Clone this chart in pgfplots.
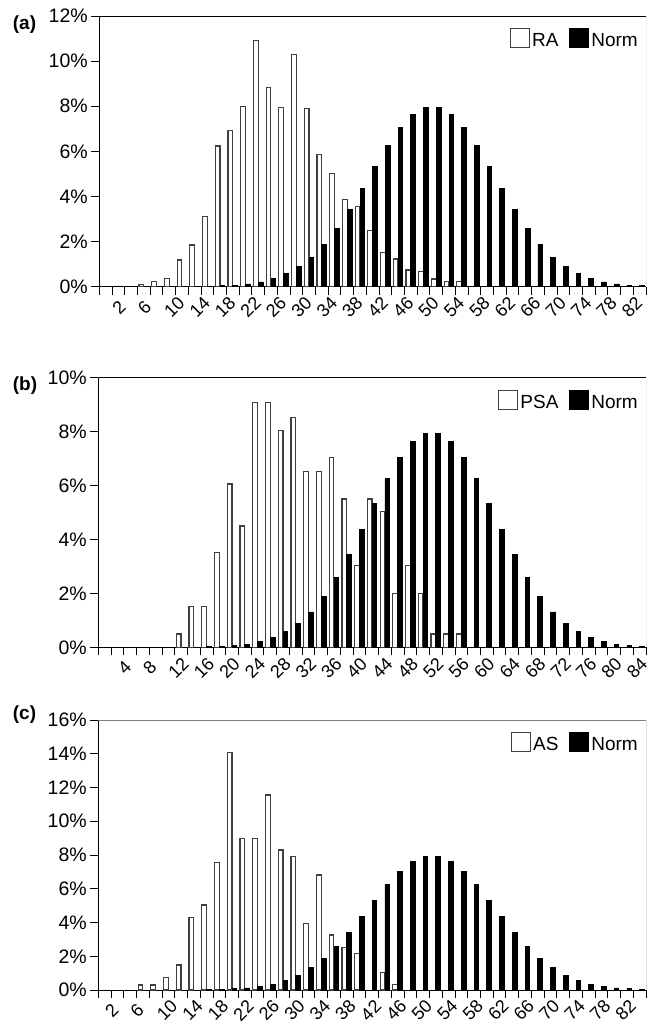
\documentclass[border=0pt]{standalone}
\usepackage{fontspec}
\setmainfont{Liberation Sans}
\usepackage{pgfplots}
\usepackage{pgfplotstable}
\pgfplotsset{compat=1.18}

\newcommand{\ylab}{\fontsize{19.5}{20}\selectfont}
\newcommand{\xlab}{\fontsize{18}{18}\selectfont}
\newcommand{\leg}{\fontsize{19}{20}\selectfont}
\newcommand{\plab}{\fontsize{19}{20}\selectfont\bfseries}

% normal reference, same in every panel
\pgfplotstableread{
c p
9 0.02
10 0.035
11 0.065
12 0.12
13 0.21
14 0.35
15 0.57
16 0.88
17 1.31
18 1.88
19 2.59
20 3.43
21 4.36
22 5.32
23 6.25
24 7.04
25 7.63
26 7.94
27 7.94
28 7.63
29 7.04
30 6.25
31 5.32
32 4.36
33 3.43
34 2.59
35 1.88
36 1.31
37 0.88
38 0.57
39 0.35
40 0.21
41 0.12
42 0.065
43 0.035
}\normtab

\pgfplotstableread{
c p
4 0.1
5 0.22
6 0.37
7 1.18
8 1.85
9 3.1
10 6.24
11 6.94
12 8.0
13 10.92
14 8.83
15 7.94
16 10.29
17 7.9
18 5.86
19 5.0
20 3.88
21 3.56
22 2.48
23 1.52
24 1.23
25 0.74
26 0.68
27 0.34
28 0.24
29 0.24
}\ratab

\pgfplotstableread{
c p
7 0.49
8 1.51
9 1.51
10 3.51
11 6.06
12 4.5
13 9.07
14 9.07
15 8.03
16 8.53
17 6.51
18 6.51
19 7.03
20 5.5
21 3.03
22 5.5
23 5.03
24 2.0
25 3.03
26 2.0
27 0.49
28 0.49
29 0.49
}\psatab

\pgfplotstableread{
c p
4 0.3
5 0.3
6 0.75
7 1.48
8 4.31
9 5.04
10 7.55
11 14.07
12 8.99
13 8.99
14 11.56
15 8.3
16 7.9
17 3.95
18 6.82
19 3.26
20 2.53
21 2.17
23 1.05
24 0.34
}\astab

\pgfplotsset{
  hist/.style={
    scale only axis,
    xmin=0.5, xmax=43.5, ymin=0,
    axis x line*=bottom, axis y line*=left,
    axis line style={black, line width=0.9pt, -},
    tick align=outside,
    major tick length=8pt,
    tick style={black, line width=0.8pt},
    xtick={0.5,1.5,...,43.5},
    xticklabels={},
    extra x tick style={major tick length=0pt,
      xticklabel style={font=\xlab, anchor=center, yshift=-20.5pt, rotate=45}},
    yticklabel style={font=\ylab, anchor=east},
    legend columns=-1,
    legend image code/.code={\draw[#1] (0pt,-7pt) rectangle (19pt,12pt);},
    legend style={draw=none, fill=none, inner sep=0pt, font=\leg,
      at={(1,1)}, anchor=north east, xshift=-6pt, yshift=-12pt,
      nodes={inner xsep=2pt, inner ysep=0pt},
      /tikz/every even column/.append style={column sep=9pt}},
  },
  obs/.style={ybar, bar width=0.37, bar shift=-0.19, fill=white, draw=black!75, line width=1.2pt},
  nm/.style={ybar, bar width=0.37, bar shift=0.19, fill=black, draw=black, line width=0.9pt},
}

\begin{document}
\begin{tikzpicture}[x=1pt,y=1pt]
\useasboundingbox (0,0) rectangle (647,1023);

% (a)
\begin{axis}[hist, at={(99.3pt,736.3pt)}, anchor=south west,
  width=546.7pt, height=270.7pt, ymax=12,
  ytick={0,2,4,6,8,10,12},
  yticklabels={0\%,2\%,4\%,6\%,8\%,10\%,12\%},
  extra x ticks={2.05,4.05,6.4,8.4,10.4,12.4,14.4,16.4,18.4,20.4,22.4,24.4,26.4,28.4,30.4,32.4,34.4,36.4,38.4,40.4,42.4},
  extra x tick labels={2,6,10,14,18,22,26,30,34,38,42,46,50,54,58,62,66,70,74,78,82}]
\addplot[obs] table[x=c,y=p] {\ratab};
\addplot[nm] table[x=c,y=p] {\normtab};
\legend{RA,Norm}
\draw[black, line width=0.9pt] (rel axis cs:0,1) -- (rel axis cs:1,1);
\draw[black!50, line width=0.9pt] (rel axis cs:1,0) -- (rel axis cs:1,1);
\end{axis}
\node[anchor=base west, font=\plab, inner sep=0pt] at (12.7,993.7) {(a)};

% (b)
\begin{axis}[hist, at={(98.3pt,375.7pt)}, anchor=south west,
  width=547.7pt, height=269.6pt, ymax=10,
  ytick={0,2,4,6,8,10},
  yticklabels={0\%,2\%,4\%,6\%,8\%,10\%},
  extra x ticks={2.55,4.55,6.8,8.8,10.8,12.8,14.8,16.8,18.8,20.8,22.8,24.8,26.8,28.8,30.8,32.8,34.8,36.8,38.8,40.8,42.8},
  extra x tick labels={4,8,12,16,20,24,28,32,36,40,44,48,52,56,60,64,68,72,76,80,84}]
\addplot[obs] table[x=c,y=p] {\psatab};
\addplot[nm] table[x=c,y=p] {\normtab};
\legend{PSA,Norm}
\draw[black, line width=0.9pt] (rel axis cs:0,1) -- (rel axis cs:1,1);
\draw[black!50, line width=0.9pt] (rel axis cs:1,0) -- (rel axis cs:1,1);
\end{axis}
\node[anchor=base west, font=\plab, inner sep=0pt] at (12.7,632) {(b)};

% (c)
\begin{axis}[hist, at={(98.3pt,33pt)}, anchor=south west,
  width=547.7pt, height=270pt, ymax=16,
  ytick={0,2,4,6,8,10,12,14,16},
  yticklabels={0\%,2\%,4\%,6\%,8\%,10\%,12\%,14\%,16\%},
  extra x ticks={1.55,3.55,5.9,7.9,9.9,11.9,13.9,15.9,17.9,19.9,21.9,23.9,25.9,27.9,29.9,31.9,33.9,35.9,37.9,39.9,41.9},
  extra x tick labels={2,6,10,14,18,22,26,30,34,38,42,46,50,54,58,62,66,70,74,78,82}]
\addplot[obs] table[x=c,y=p] {\astab};
\addplot[nm] table[x=c,y=p] {\normtab};
\legend{AS,Norm}
\draw[black!50, line width=0.9pt] (rel axis cs:0,1) -- (rel axis cs:1,1);
\draw[black, line width=0.9pt] (rel axis cs:1,0) -- (rel axis cs:1,1);
\end{axis}
\node[anchor=base west, font=\plab, inner sep=0pt] at (12.7,303.7) {(c)};
\end{tikzpicture}
\end{document}
